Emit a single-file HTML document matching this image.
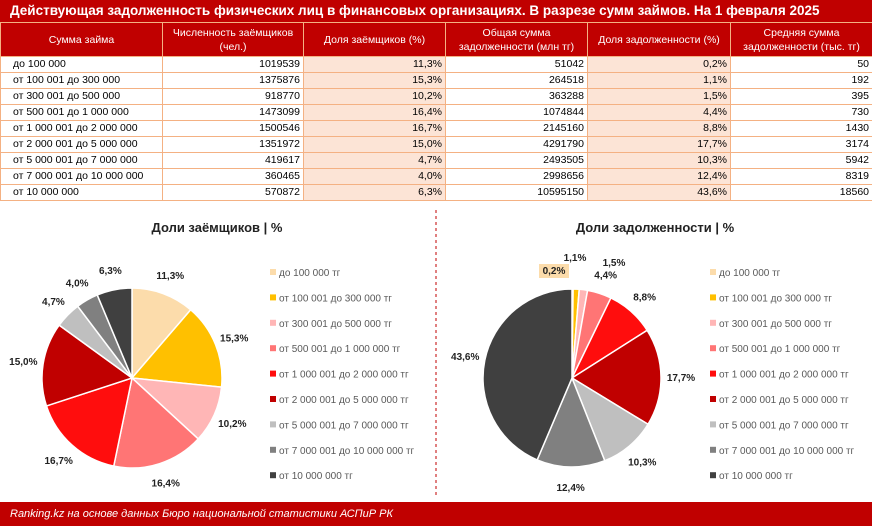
<!DOCTYPE html>
<html><head><meta charset="utf-8"><style>
body{margin:0;width:872px;height:526px;background:#fff;font-family:"Liberation Sans",sans-serif;overflow:hidden;position:relative}
#title{position:absolute;left:0;top:0;width:872px;height:22px;background:#c00000;color:#fff;font-weight:bold;font-size:13.5px;line-height:22px;padding-left:10px;box-sizing:border-box}
table{position:absolute;left:0;top:22px;border-collapse:collapse;font-size:10.5px;table-layout:fixed;width:872px}
th{background:#c00000;color:#fff;font-weight:normal;height:33px;border:1px solid #f4b183;line-height:14px;padding:0 2px}
td{height:15px;border:1px solid #f4b183;padding:0 3px;text-align:right;line-height:15px}
td:first-child{text-align:left;padding-left:12px}
td.sh{background:#fce4d6}
#footer{position:absolute;left:0;top:502px;width:872px;height:24px;background:#c00000;color:#fff;font-style:italic;font-size:11px;line-height:24px;padding-left:10px;box-sizing:border-box}
svg{position:absolute;left:0;top:0}
</style></head><body>
<div id="title">Действующая задолженность физических лиц в финансовых организациях. В разрезе сумм займов. На 1 февраля 2025</div>
<table>
<colgroup><col style="width:162px"><col style="width:141px"><col style="width:142px"><col style="width:142px"><col style="width:143px"><col style="width:142px"></colgroup>
<tr><th>Сумма займа</th><th>Численность заёмщиков (чел.)</th><th>Доля заёмщиков (%)</th><th>Общая сумма задолженности (млн тг)</th><th>Доля задолженности (%)</th><th>Средняя сумма задолженности (тыс. тг)</th></tr>
<tbody id="tb"></tbody>
</table>
<svg id="svg" width="872" height="526"></svg>
<div id="footer">Ranking.kz на основе данных Бюро национальной статистики АСПиР РК</div>
<script>
const categories=["до 100 000","от 100 001 до 300 000","от 300 001 до 500 000","от 500 001 до 1 000 000","от 1 000 001 до 2 000 000","от 2 000 001 до 5 000 000","от 5 000 001 до 7 000 000","от 7 000 001 до 10 000 000","от 10 000 000"];
const borrowers=[1019539,1375876,918770,1473099,1500546,1351972,419617,360465,570872];
const borrowerShare=[11.3,15.3,10.2,16.4,16.7,15.0,4.7,4.0,6.3];
const debt=[51042,264518,363288,1074844,2145160,4291790,2493505,2998656,10595150];
const debtShare=[0.2,1.1,1.5,4.4,8.8,17.7,10.3,12.4,43.6];
const avgDebt=[50,192,395,730,1430,3174,5942,8319,18560];
const colors=["#fcdcab","#ffc000","#ffb6b6","#ff7575","#ff0d0d","#c00000","#bfbfbf","#808080","#404040"];
const fmt=v=>v.toFixed(1).replace('.',',')+'%';
const tb=document.getElementById('tb');
categories.forEach((c,i)=>{
 const tr=document.createElement('tr');
 
 
 tr.innerHTML=`<td>${c}</td><td>${borrowers[i]}</td><td class="sh">${fmt(borrowerShare[i])}</td><td>${debt[i]}</td><td class="sh">${fmt(debtShare[i])}</td><td>${avgDebt[i]}</td>`;
 tb.appendChild(tr);
});
const NS="http://www.w3.org/2000/svg";
const svg=document.getElementById('svg');
function el(t,a,p){const e=document.createElementNS(NS,t);for(const k in a)e.setAttribute(k,a[k]);(p||svg).appendChild(e);return e;}
el('line',{x1:436,y1:210,x2:436,y2:498,stroke:'#c00000','stroke-dasharray':'3,3','stroke-width':1});
function pie(cx,cy,r,vals,title,tx,lx,prefix){
 const t=el('text',{x:tx,y:232,'font-size':13,'font-weight':'bold','text-anchor':'middle',fill:'#222'});
 t.textContent=title;
 
 
 const tot=vals.reduce((a,b)=>a+b,0);let a0=-Math.PI/2;
 vals.forEach((v,i)=>{
  const a1=a0+v/tot*2*Math.PI;
  const x0=cx+r*Math.cos(a0),y0=cy+r*Math.sin(a0),x1=cx+r*Math.cos(a1),y1=cy+r*Math.sin(a1);
  const p=el('path',{d:`M${cx},${cy}L${x0},${y0}A${r},${r} 0 ${a1-a0>Math.PI?1:0} 1 ${x1},${y1}Z`,fill:colors[i],stroke:'#fff','stroke-width':1.5});
  
  
  const am=(a0+a1)/2;let lr=r+20;
  let lxp=cx+lr*Math.cos(am),lyp=cy+lr*Math.sin(am)+4;
  if(prefix==='debt'&&i<3){lxp=cx+[-18,3,42][i];lyp=cy+[-104,-117,-112][i];}
  if(prefix==='debt'&&i===0){el('rect',{x:lxp-15,y:lyp-10,width:30,height:14,fill:'#fcdcab'});}
  const lt=el('text',{x:lxp,y:lyp,'font-size':10,'font-weight':'bold','text-anchor':'middle',fill:'#222'});
  lt.textContent=fmt(v);
  
  
  a0=a1;
 });
 categories.forEach((c,i)=>{
  const y=273+i*25.4;
  const s=el('rect',{x:lx,y:y-4,width:6,height:6,fill:colors[i]});
  
  
  const tt=el('text',{x:lx+9,y:y+3,'font-size':10,fill:'#595959'});
  tt.textContent=c+' тг';
  
  
 });
}
pie(132,378,90,borrowerShare,'Доли заёмщиков | %',217,270,'borrowers');
pie(572,378,89,debtShare,'Доли задолженности | %',655,710,'debt');
</script>
</body></html>
